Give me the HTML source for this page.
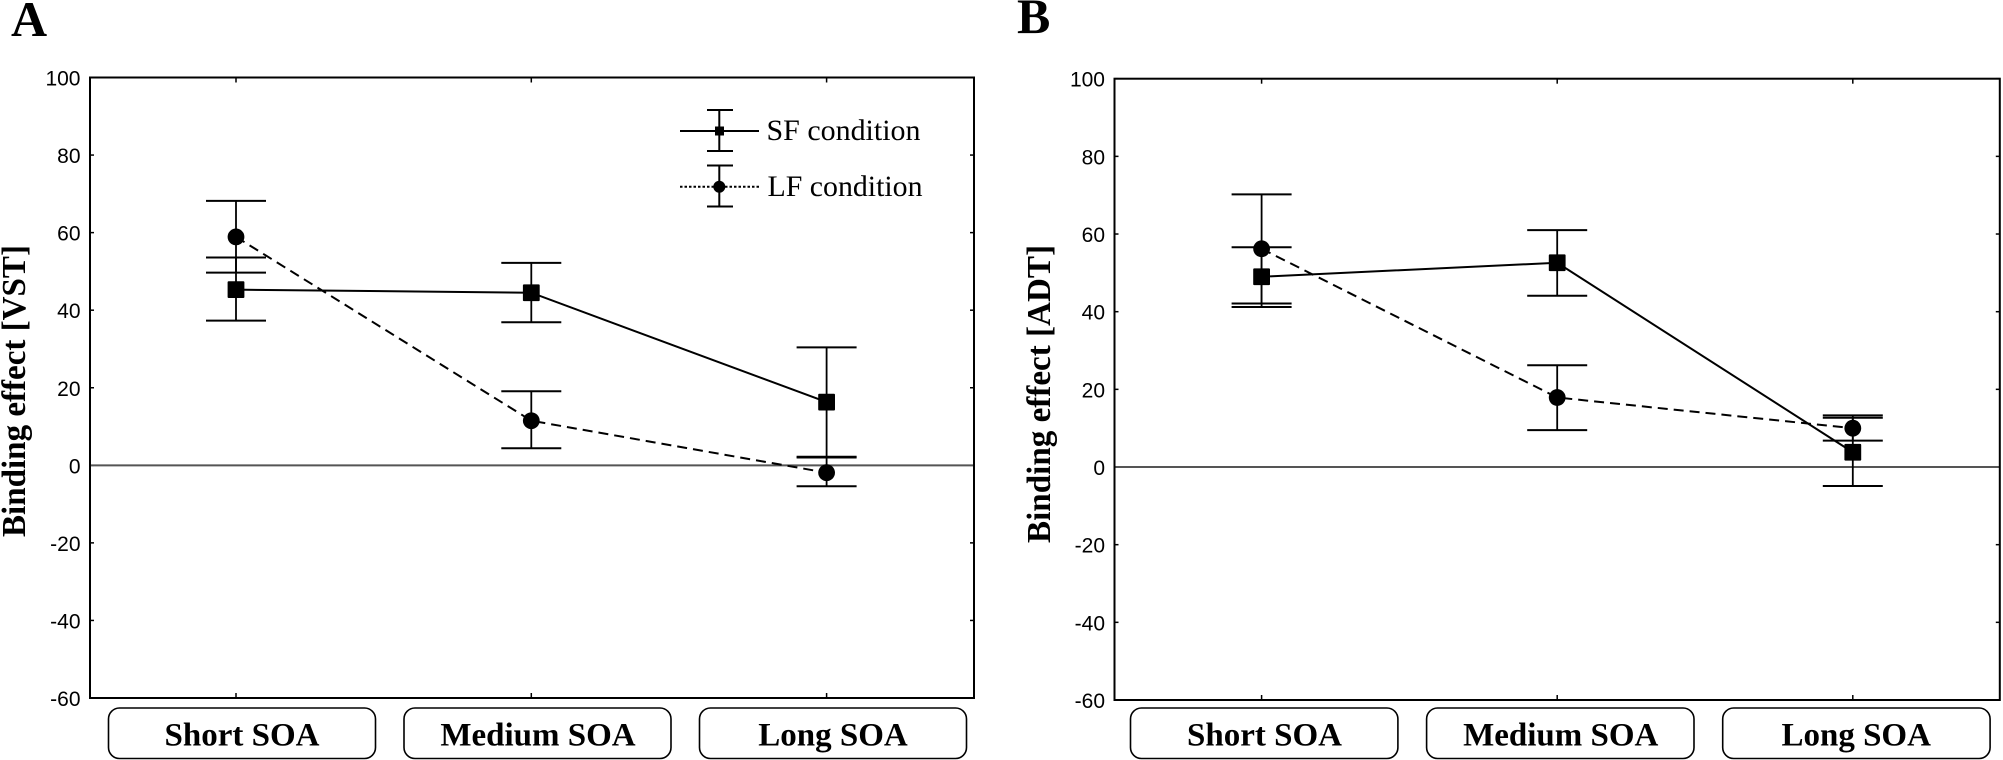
<!DOCTYPE html>
<html lang="en">
<head>
<meta charset="utf-8">
<title>Binding effect by SOA</title>
<style>
html,body{margin:0;padding:0;background:#fff;width:2003px;height:760px;overflow:hidden}
svg{display:block}
text{fill:#000}
.tick-label{font-family:"Liberation Sans",sans-serif;font-size:21px;text-anchor:end}
.cat-label{font-family:"Liberation Serif",serif;font-weight:bold;font-size:33px;text-anchor:middle}
.title{font-family:"Liberation Serif",serif;font-weight:bold;font-size:34px;text-anchor:middle}
.panel-letter{font-family:"Liberation Serif",serif;font-weight:bold;font-size:50px}
.legend-text{font-family:"Liberation Serif",serif;font-size:29.5px}
</style>
</head>
<body>
<svg id="fig" width="2003" height="760" viewBox="0 0 2003 760" xmlns="http://www.w3.org/2000/svg">
  <text class="panel-letter" x="11" y="36">A</text>
  <text class="panel-letter" x="1017" y="33">B</text>
  <text class="title" transform="translate(25,391) rotate(-90)" textLength="292" lengthAdjust="spacingAndGlyphs">Binding effect [VST]</text>
  <text class="title" transform="translate(1050,394) rotate(-90)" textLength="298" lengthAdjust="spacingAndGlyphs">Binding effect [ADT]</text>
  <g>
    <g>
      <line x1="680" x2="759" y1="131" y2="131" stroke="#000" stroke-width="2"/>
      <line x1="719.3" x2="719.3" y1="110" y2="151" stroke="#000" stroke-width="2"/>
      <line x1="707" x2="733" y1="110" y2="110" stroke="#000" stroke-width="2"/>
      <line x1="707" x2="733" y1="151" y2="151" stroke="#000" stroke-width="2"/>
      <rect x="715" y="126.5" width="9" height="9" fill="#000"/>
      <text class="legend-text" x="766.5" y="140" textLength="154" lengthAdjust="spacingAndGlyphs">SF condition</text>
    </g>
    <g>
      <line x1="680" x2="759" y1="186.7" y2="186.7" stroke="#000" stroke-width="2" stroke-dasharray="2.5 2"/>
      <line x1="719.3" x2="719.3" y1="165.5" y2="206.5" stroke="#000" stroke-width="2"/>
      <line x1="707" x2="733" y1="165.5" y2="165.5" stroke="#000" stroke-width="2"/>
      <line x1="707" x2="733" y1="206.5" y2="206.5" stroke="#000" stroke-width="2"/>
      <circle cx="719.3" cy="186.7" r="6" fill="#000"/>
      <text class="legend-text" x="767.5" y="196" textLength="155" lengthAdjust="spacingAndGlyphs">LF condition</text>
    </g>
  </g>
</svg>
<script>
// Chart data
const categories = ['Short SOA', 'Medium SOA', 'Long SOA'];
const yTicks = [100, 80, 60, 40, 20, 0, -20, -40, -60];

const vstSfMean = [45.3, 44.5, 16.3];
const vstSfLower = [37.3, 36.9, 2.2];
const vstSfUpper = [53.6, 52.2, 30.4];
const vstLfMean = [58.9, 11.5, -1.9];
const vstLfLower = [49.7, 4.4, -5.4];
const vstLfUpper = [68.2, 19.1, 2.0];

const adtSfMean = [49.0, 52.6, 3.8];
const adtSfLower = [41.2, 44.1, -4.9];
const adtSfUpper = [56.6, 61.0, 12.7];
const adtLfMean = [56.2, 17.9, 10.0];
const adtLfLower = [42.1, 9.5, 6.8];
const adtLfUpper = [70.2, 26.2, 13.3];

const svg = document.getElementById('fig');
const NS = 'http://www.w3.org/2000/svg';

function mk(parent, tag, attrs, name) {
  const el = document.createElementNS(NS, tag);
  for (const k in attrs) el.setAttribute(k, attrs[k]);
  
  
  parent.appendChild(el);
  return el;
}

function drawPanel(p) {
  const g = mk(svg, 'g', {}, p.id + '-chart');
  const yScale = v => p.top + (100 - v) / 160 * (p.bottom - p.top);
  const xScale = i => p.firstX + i * p.stepX;

  // y ticks and labels
  yTicks.forEach(t => {
    const y = yScale(t);
    mk(g, 'line', {x1: p.left, x2: p.left + 4, y1: y, y2: y, stroke: '#000', 'stroke-width': 1.5}, p.id + '-y-tick-left');
    mk(g, 'line', {x1: p.right - 4, x2: p.right, y1: y, y2: y, stroke: '#000', 'stroke-width': 1.5}, p.id + '-y-tick-right');
    const lab = mk(g, 'text', {class: 'tick-label', x: p.left - 9.5, y: y + 8}, p.id + '-y-tick-label');
    lab.textContent = t;
  });

  // zero line
  mk(g, 'line', {x1: p.left, x2: p.right, y1: yScale(0), y2: yScale(0), stroke: '#555', 'stroke-width': 2}, p.id + '-zero-line');

  // x ticks
  categories.forEach((c, i) => {
    const x = xScale(i);
    mk(g, 'line', {x1: x, x2: x, y1: p.top, y2: p.top + 5, stroke: '#000', 'stroke-width': 1.5}, p.id + '-x-tick-top');
    mk(g, 'line', {x1: x, x2: x, y1: p.bottom - 5, y2: p.bottom, stroke: '#000', 'stroke-width': 1.5}, p.id + '-x-tick-bottom');
  });

  // frame
  mk(g, 'rect', {x: p.left, y: p.top, width: p.right - p.left, height: p.bottom - p.top, fill: 'none', stroke: '#000', 'stroke-width': 2}, p.id + '-plot-frame');

  // series
  drawSeries(g, p, p.id + '-sf', p.sf, xScale, yScale, null);
  drawSeries(g, p, p.id + '-lf', p.lf, xScale, yScale, '10 6');

  // category boxes
  categories.forEach((c, i) => {
    const bx = p.boxX + i * p.boxStep;
    const box = mk(g, 'rect', {x: bx, y: 708, width: p.boxW, height: 50.5, rx: 11, ry: 11, fill: '#fff', stroke: '#000', 'stroke-width': 1.6}, p.id + '-category-box');
    box.setAttribute('data-category', c);
    const t = mk(g, 'text', {class: 'cat-label', x: p.textX[i], y: 745.5}, p.id + '-category-label');
    t.textContent = c;
  });
}

function drawSeries(g, p, name, s, xScale, yScale, dash) {
  const pts = s.mean.map((v, i) => xScale(i) + ',' + yScale(v)).join(' ');
  const lineAttrs = {points: pts, fill: 'none', stroke: '#000', 'stroke-width': 2};
  if (dash) lineAttrs['stroke-dasharray'] = dash;
  mk(g, 'polyline', lineAttrs, name + '-line');
  s.mean.forEach((v, i) => {
    const x = xScale(i);
    const lo = yScale(s.lower[i]);
    const hi = yScale(s.upper[i]);
    mk(g, 'line', {x1: x, x2: x, y1: hi, y2: lo, stroke: '#000', 'stroke-width': 1.8}, name + '-error-stem');
    mk(g, 'line', {x1: x - 30, x2: x + 30, y1: hi, y2: hi, stroke: '#000', 'stroke-width': 2}, name + '-error-cap-upper');
    mk(g, 'line', {x1: x - 30, x2: x + 30, y1: lo, y2: lo, stroke: '#000', 'stroke-width': 2}, name + '-error-cap-lower');
    if (s.marker === 'square') {
      mk(g, 'rect', {x: x - 8.4, y: yScale(v) - 8.4, width: 16.8, height: 16.8, rx: 1, fill: '#000'}, name + '-point');
    } else {
      mk(g, 'circle', {cx: x, cy: yScale(v), r: 8.4, fill: '#000'}, name + '-point');
    }
  });
}

drawPanel({
  id: 'panel-a', left: 90, right: 974, top: 77.5, bottom: 698,
  firstX: 236, stepX: 295.3,
  boxX: 108.5, boxStep: 295.5, boxW: 267,
  textX: [242, 538, 833],
  sf: {mean: vstSfMean, lower: vstSfLower, upper: vstSfUpper, marker: 'square'},
  lf: {mean: vstLfMean, lower: vstLfLower, upper: vstLfUpper, marker: 'circle'}
});
drawPanel({
  id: 'panel-b', left: 1114.5, right: 1999.8, top: 78.7, bottom: 700,
  firstX: 1261.6, stepX: 295.6,
  boxX: 1130.5, boxStep: 296.1, boxW: 267.4,
  textX: [1264.5, 1560.7, 1856.2],
  sf: {mean: adtSfMean, lower: adtSfLower, upper: adtSfUpper, marker: 'square'},
  lf: {mean: adtLfMean, lower: adtLfLower, upper: adtLfUpper, marker: 'circle'}
});
</script>
</body>
</html>
